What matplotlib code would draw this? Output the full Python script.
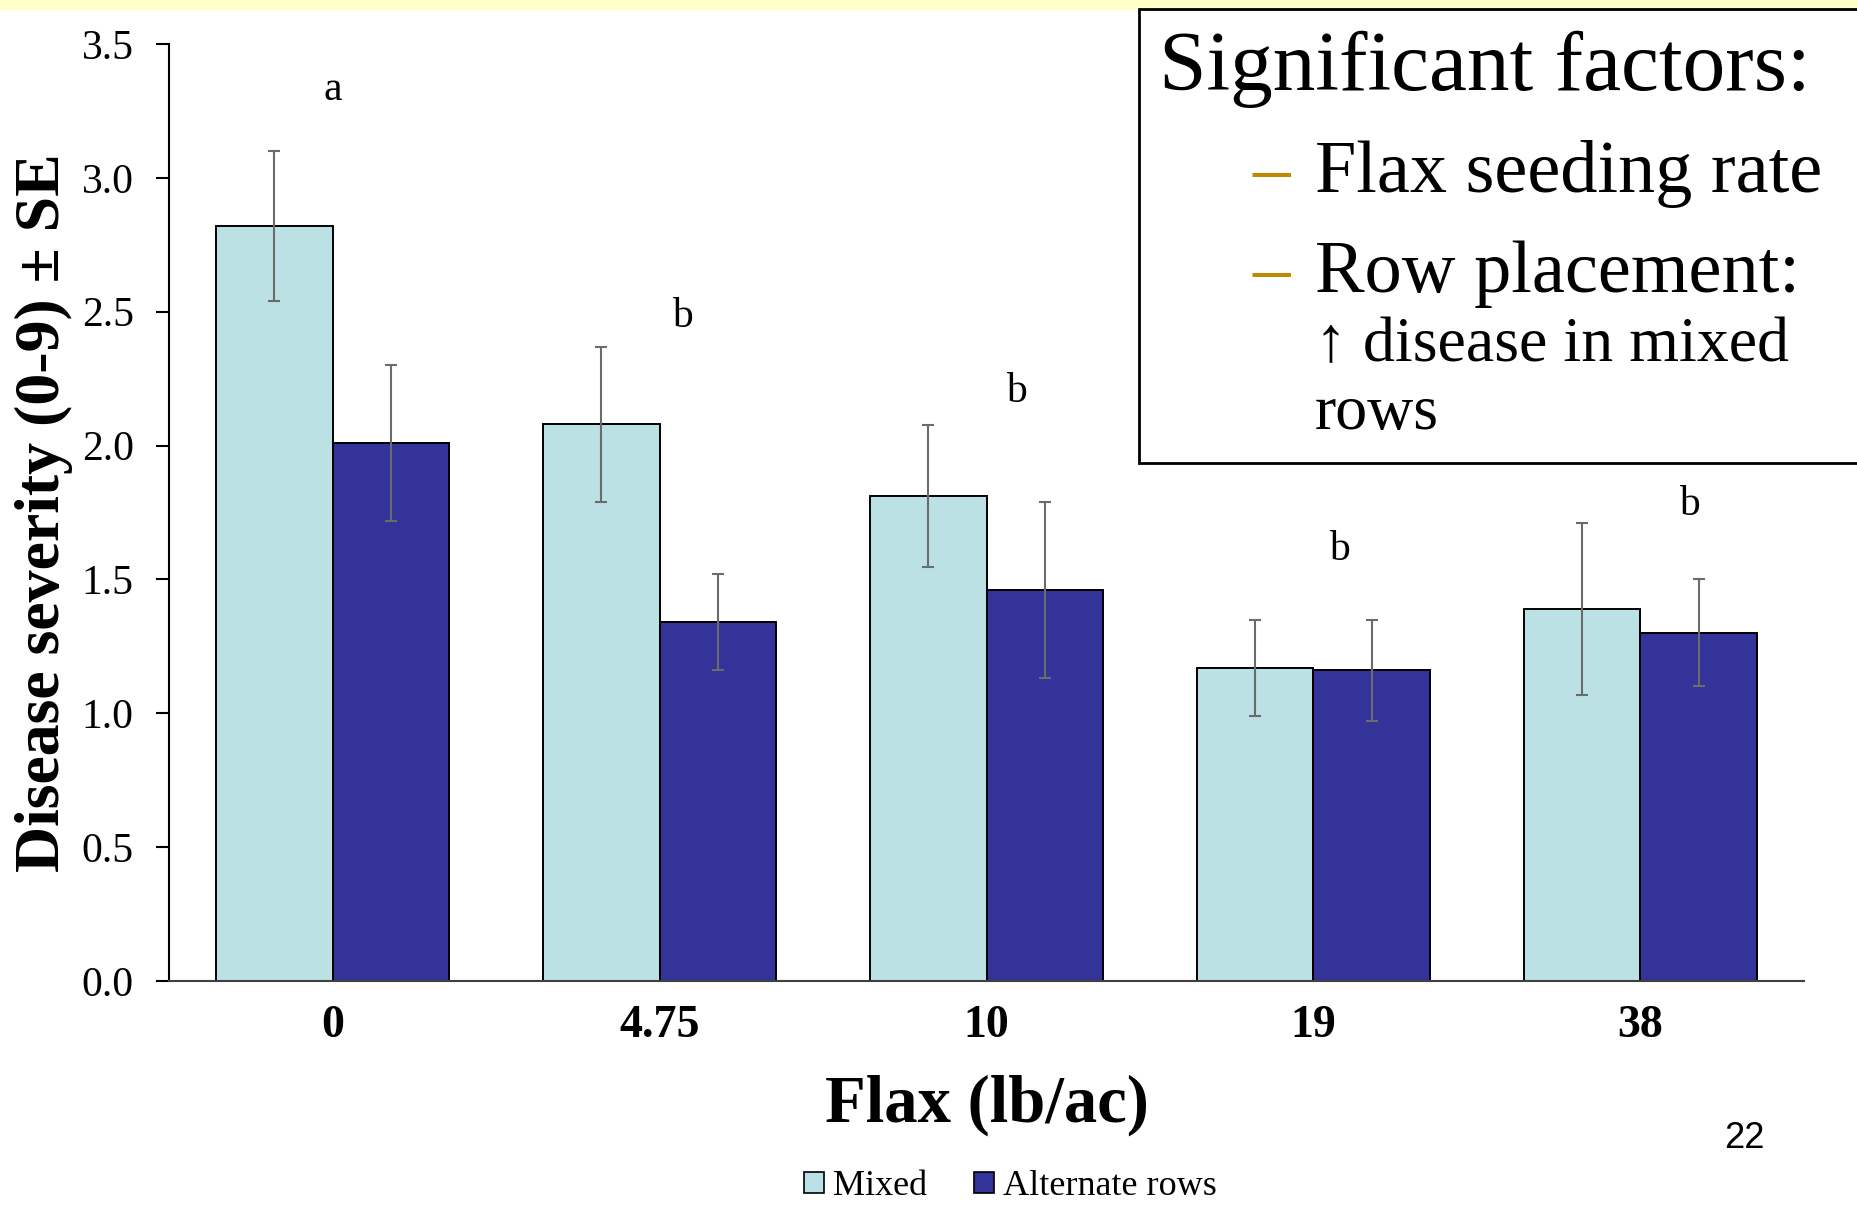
import matplotlib.pyplot as plt
import numpy as np
from matplotlib.patches import Rectangle, Patch

# flax seeding rate groups and disease severity (0-9) +- SE
rates = ['0', '4.75', '10', '19', '38']
mixed = [2.82, 2.08, 1.81, 1.17, 1.39]
mixed_se = [0.28, 0.29, 0.265, 0.18, 0.32]
alternate = [2.01, 1.34, 1.46, 1.16, 1.30]
alternate_se = [0.29, 0.18, 0.33, 0.19, 0.20]

# mean separation letters
letters = ['a', 'b', 'b', 'b', 'b']
letter_y = [3.33, 2.48, 2.20, 1.61, 1.78]
letter_dx = [0.0, 0.07, 0.09, 0.08, 0.15]

plt.rcParams['font.family'] = ['Liberation Serif', 'DejaVu Serif']

fig = plt.figure(figsize=(18.58, 12.06), dpi=100)
ax = fig.add_axes([0.091, 0.1866, 0.8799, 0.7769])

# yellow strip at the top of the slide
fig.patches.append(Rectangle((0, 0.992), 1, 0.008, transform=fig.transFigure,
                             facecolor='#FFFFC8', edgecolor='none', zorder=0))

x = np.arange(len(rates))
w = 0.357
err = dict(ecolor='#6B6B6B', elinewidth=1.5, capsize=4.5, capthick=1.5)
ax.bar(x - w/2, mixed, w, yerr=mixed_se, color='#BCE1E4', edgecolor='black',
       linewidth=1.4, error_kw=err, label='Mixed')
ax.bar(x + w/2, alternate, w, yerr=alternate_se, color='#333399', edgecolor='black',
       linewidth=1.4, error_kw=err, label='Alternate rows')

for i in range(len(rates)):
    ax.text(x[i] + letter_dx[i], letter_y[i], letters[i], ha='center', va='center',
            fontsize=30)

ax.set_xlim(-0.5, 4.5)
ax.set_ylim(0, 3.5)
ax.set_yticks(np.arange(0, 3.51, 0.5))
ax.set_yticklabels(['%.1f' % v for v in np.arange(0, 3.51, 0.5)], fontsize=30)
ax.set_xticks(x)
ax.set_xticklabels(rates, fontsize=33, fontweight='bold')
ax.tick_params(axis='y', direction='out', length=9.5, width=1.5, pad=16)
ax.tick_params(axis='x', length=0, pad=17)
ax.spines['top'].set_visible(False)
ax.spines['right'].set_visible(False)
ax.spines['left'].set_linewidth(1.5)
ax.spines['bottom'].set_linewidth(1.5)
ax.spines['bottom'].set_color('#404040')

ax.set_ylabel('Disease severity (0-9) ± SE', fontsize=46, fontweight='bold', labelpad=6)
ax.set_xlabel('Flax (lb/ac)', fontsize=48, fontweight='bold', labelpad=20)

# legend at the bottom
handles = [Patch(facecolor='#BCE1E4', edgecolor='black', linewidth=1.2),
           Patch(facecolor='#333399', edgecolor='black', linewidth=1.2)]
fig.legend(handles, ['Mixed', 'Alternate rows'], loc='center', bbox_to_anchor=(0.544, 0.016),
           ncol=2, frameon=False, fontsize=26, handlelength=0.55, handleheight=0.55,
           handletextpad=0.25, columnspacing=1.3, borderpad=0.1)

# text box with significant factors
fig.patches.append(Rectangle((0.613, 0.616), 0.40, 0.3765, transform=fig.transFigure,
                             facecolor='white', edgecolor='black', linewidth=2, zorder=5))
fig.text(0.6238, 0.925, 'Significant factors:', fontsize=61.5, va='baseline', zorder=6)
fig.text(0.674, 0.841, '–', fontsize=54, color='#C08A00', va='baseline', zorder=6)
fig.text(0.7077, 0.841, 'Flax seeding rate', fontsize=53.5, va='baseline', zorder=6)
fig.text(0.674, 0.758, '–', fontsize=54, color='#C08A00', va='baseline', zorder=6)
fig.text(0.7077, 0.758, 'Row placement:', fontsize=53.5, va='baseline', zorder=6)
fig.text(0.7077, 0.7007, '↑ disease in mixed', fontsize=46, va='baseline', zorder=6)
fig.text(0.7077, 0.6443, 'rows', fontsize=46, va='baseline', zorder=6)

# slide number
fig.text(0.939, 0.056, '22', fontsize=26, family='Liberation Sans', ha='center', va='center')

fig.savefig('out.png', dpi=100)
